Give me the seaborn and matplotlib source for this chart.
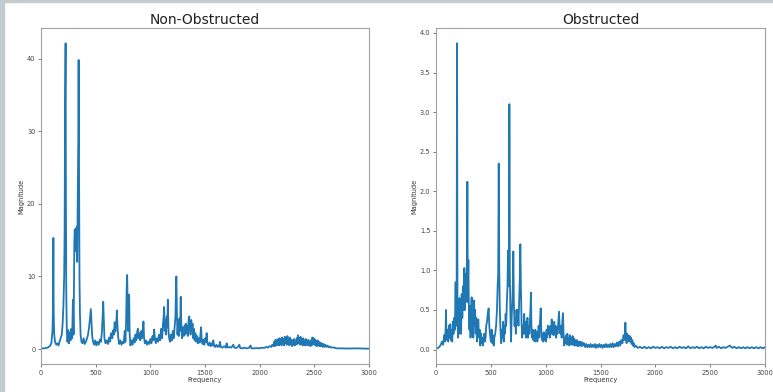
import matplotlib
matplotlib.use("Agg")
import matplotlib.pyplot as plt
import pandas as pd
import seaborn as sns
from matplotlib.patches import Rectangle

# (frequency, magnitude) pairs, non-obstructed pipe
open_low = [(0, 0.1), (30, 0.1), (60, 0.2), (80, 0.4), (95, 0.8), (105, 2.5), (110, 5.8), (113, 15.3),
            (116, 5.0), (120, 2.2), (128, 1.0), (140, 0.6), (150, 0.8), (160, 0.5), (170, 1.0), (180, 1.5),
            (190, 2.0), (198, 3.5), (205, 6.0), (212, 10.0), (216, 16.0), (220, 33.0), (225, 42.1), (228, 20.0),
            (231, 8.0), (236, 2.5), (242, 1.0), (250, 2.6), (256, 0.8), (263, 2.2), (270, 1.2), (278, 2.8),
            (285, 1.5), (292, 6.8), (298, 2.0), (305, 14.8), (309, 16.5), (313, 13.5), (317, 15.8), (321, 14.5),
            (326, 16.8), (331, 12.0), (336, 20.0), (341, 29.0), (344, 39.8), (348, 25.0), (352, 10.0), (356, 5.0),
            (362, 2.0), (370, 1.0), (380, 0.8), (390, 1.5), (400, 0.7), (410, 1.0), (420, 1.4), (430, 2.0),
            (440, 3.0), (448, 4.2), (456, 5.5), (462, 3.5), (468, 1.8), (476, 1.0), (486, 0.6), (496, 1.2),
            (506, 0.5), (516, 1.0), (528, 0.6), (538, 1.3), (548, 1.0), (556, 2.2), (564, 4.5), (569, 6.5),
            (574, 4.0), (580, 1.5), (590, 0.8), (600, 1.2), (612, 0.7), (622, 1.6), (632, 1.0), (642, 2.2),
            (652, 1.5), (660, 2.6), (667, 2.0), (674, 3.7), (680, 2.4), (688, 3.5), (694, 5.3), (700, 3.0),
            (707, 1.5), (716, 0.7), (726, 1.2), (736, 0.6), (746, 1.0), (756, 0.8), (766, 2.5), (772, 1.0),
            (778, 3.5), (784, 8.5), (788, 10.2), (792, 6.0), (796, 2.5), (800, 4.0), (806, 7.5), (811, 2.0),
            (818, 0.5), (828, 1.2), (838, 0.6), (848, 1.5), (856, 0.9), (864, 2.0), (872, 1.2), (880, 2.4),
            (886, 2.8), (892, 1.5), (900, 2.2), (908, 1.2), (916, 2.5), (924, 1.5), (930, 2.2), (937, 3.8),
            (943, 1.5), (950, 0.8), (960, 1.2), (970, 0.6), (980, 1.0), (990, 0.7)]
open_mid = [(1000, 1.4), (1010, 0.8), (1020, 1.8), (1028, 1.2), (1035, 2.7), (1042, 1.5), (1050, 0.8),
            (1060, 1.5), (1070, 1.0), (1080, 2.0), (1090, 1.2), (1100, 2.8), (1108, 1.5), (1116, 3.5),
            (1122, 4.5), (1126, 5.8), (1132, 2.5), (1138, 4.0), (1144, 2.0), (1150, 4.5), (1155, 3.0),
            (1160, 6.8), (1166, 2.5), (1172, 1.5), (1180, 1.0), (1190, 2.0), (1198, 1.2), (1206, 2.5),
            (1214, 1.5), (1222, 3.0), (1230, 4.5), (1234, 8.0), (1238, 10.0), (1243, 5.0), (1248, 2.0),
            (1254, 3.5), (1260, 1.8), (1266, 4.2), (1272, 2.5), (1278, 7.2), (1284, 3.0), (1290, 1.5),
            (1298, 3.0), (1306, 1.8), (1314, 3.3), (1320, 2.0), (1326, 3.5), (1332, 2.2), (1338, 3.2),
            (1344, 1.8), (1350, 4.0), (1356, 4.5), (1362, 3.0), (1368, 2.0), (1374, 4.0), (1380, 2.5),
            (1386, 3.5), (1392, 1.5), (1398, 2.8), (1405, 1.2), (1412, 2.2), (1420, 1.0), (1428, 1.8),
            (1436, 0.8), (1444, 1.5), (1452, 0.9), (1458, 2.0), (1464, 3.0), (1470, 1.2), (1478, 0.7),
            (1486, 1.3), (1494, 0.6), (1502, 1.5), (1510, 1.0), (1515, 2.2), (1522, 0.8), (1532, 0.5),
            (1542, 0.9), (1552, 0.4), (1562, 0.8), (1570, 0.5), (1576, 1.2), (1584, 0.4), (1594, 0.3),
            (1604, 0.6), (1614, 0.3), (1624, 0.5), (1632, 0.3), (1637, 1.0), (1645, 0.3), (1660, 0.2),
            (1675, 0.4), (1690, 0.2), (1698, 0.8), (1706, 0.2), (1720, 0.3), (1740, 0.2), (1759, 0.6),
            (1768, 0.2), (1785, 0.15), (1800, 0.3), (1814, 0.6), (1822, 0.15), (1840, 0.1), (1860, 0.2),
            (1880, 0.1), (1900, 0.15), (1917, 0.5), (1925, 0.1), (1950, 0.1), (1975, 0.15)]
open_high = [(2000, 0.1), (2020, 0.2), (2040, 0.15), (2060, 0.3), (2075, 0.2), (2090, 0.4), (2105, 0.3),
             (2115, 0.6), (2125, 0.4), (2132, 1.0), (2138, 0.4), (2145, 1.3), (2152, 0.5), (2158, 1.2),
             (2164, 0.6), (2170, 1.4), (2176, 0.5), (2182, 1.5), (2188, 0.7), (2194, 1.3), (2200, 0.5),
             (2206, 1.6), (2212, 0.8), (2218, 1.4), (2224, 0.5), (2230, 1.7), (2236, 0.8), (2242, 1.5),
             (2248, 0.6), (2254, 1.8), (2260, 0.9), (2266, 1.4), (2272, 0.5), (2278, 1.6), (2284, 0.7),
             (2290, 1.3), (2296, 0.4), (2302, 1.2), (2308, 0.6), (2314, 1.4), (2320, 0.5), (2326, 1.1),
             (2332, 0.6), (2338, 1.5), (2344, 0.7), (2350, 1.9), (2356, 0.8), (2362, 1.5), (2368, 0.6),
             (2374, 1.7), (2380, 0.7), (2386, 1.3), (2392, 0.5), (2398, 1.5), (2404, 0.6), (2410, 1.2),
             (2416, 0.5), (2422, 1.4), (2428, 0.6), (2434, 1.1), (2440, 0.5), (2446, 1.3), (2452, 0.6),
             (2458, 1.0), (2464, 0.4), (2470, 1.2), (2476, 0.5), (2482, 1.6), (2488, 0.7), (2494, 1.5),
             (2500, 0.6), (2506, 1.3), (2512, 0.5), (2518, 1.1), (2524, 0.4), (2530, 1.2), (2536, 0.5),
             (2542, 1.0), (2548, 0.4), (2554, 0.9), (2560, 0.4), (2568, 0.8), (2576, 0.3), (2584, 0.7),
             (2592, 0.3), (2600, 0.6), (2610, 0.3), (2620, 0.5), (2630, 0.25), (2640, 0.35), (2655, 0.2),
             (2670, 0.25), (2690, 0.15), (2710, 0.1), (2750, 0.1), (2800, 0.08), (2900, 0.1), (3000, 0.05)]

# (frequency, magnitude) pairs, obstructed pipe
blocked_low = [(0, 0.01), (20, 0.02), (40, 0.05), (55, 0.1), (65, 0.06), (75, 0.18), (82, 0.1), (88, 0.28),
               (91, 0.5), (95, 0.2), (100, 0.12), (106, 0.25), (112, 0.1), (118, 0.3), (124, 0.15), (130, 0.32),
               (136, 0.12), (142, 0.25), (148, 0.1), (154, 0.35), (160, 0.2), (166, 0.4), (172, 0.25), (176, 0.6),
               (179, 0.85), (183, 0.3), (188, 0.5), (192, 3.87), (196, 0.4), (201, 0.15), (206, 0.6), (211, 0.3),
               (215, 0.65), (219, 0.2), (224, 0.5), (229, 0.2), (234, 0.7), (240, 0.4), (246, 0.8), (252, 0.5),
               (258, 1.03), (263, 0.5), (268, 0.95), (273, 0.6), (278, 0.75), (283, 1.2), (286, 2.12), (290, 0.6),
               (295, 1.13), (300, 0.5), (305, 0.25), (310, 0.55), (315, 0.15), (320, 0.45), (325, 0.66), (330, 0.2),
               (335, 0.5), (340, 0.15), (347, 0.62), (352, 0.3), (357, 0.5), (362, 0.2), (368, 0.4), (374, 0.1),
               (380, 0.3), (386, 0.38), (392, 0.15), (398, 0.25), (404, 0.05), (410, 0.2), (416, 0.08), (422, 0.15),
               (428, 0.05), (434, 0.12), (440, 0.2), (446, 0.1), (452, 0.15), (458, 0.3), (465, 0.35), (472, 0.45),
               (480, 0.52), (486, 0.3), (492, 0.2), (500, 0.1), (508, 0.25), (514, 0.08), (520, 0.18), (526, 0.05),
               (532, 0.15), (540, 0.2), (548, 0.3), (556, 0.5), (562, 0.8), (567, 0.95), (572, 2.35), (577, 1.0),
               (582, 0.5), (588, 0.25), (594, 0.08), (600, 0.25), (606, 0.15), (612, 0.35), (618, 0.1), (624, 0.3),
               (630, 0.2), (635, 0.45), (640, 0.3), (646, 0.6), (652, 0.8), (657, 1.25), (662, 0.8), (666, 1.0),
               (669, 3.1), (673, 1.0), (678, 0.5), (684, 0.1), (690, 0.4), (696, 0.6), (702, 0.9), (705, 1.24),
               (710, 0.6), (716, 0.3), (722, 0.4), (728, 0.2), (734, 0.5), (740, 0.35), (746, 0.5), (752, 0.3),
               (758, 0.6), (764, 0.9), (769, 1.33), (774, 0.8), (780, 0.35), (786, 0.15), (792, 0.3), (798, 0.2)]
blocked_mid = [(804, 0.45), (810, 0.2), (816, 0.35), (822, 0.15), (828, 0.25), (834, 0.4), (840, 0.15),
               (846, 0.3), (852, 0.2), (858, 0.4), (862, 0.55), (866, 0.72), (870, 0.3), (876, 0.15), (882, 0.25),
               (888, 0.12), (894, 0.2), (900, 0.1), (906, 0.25), (912, 0.12), (918, 0.22), (924, 0.1), (930, 0.18),
               (936, 0.3), (942, 0.15), (948, 0.35), (955, 0.52), (960, 0.25), (966, 0.12), (972, 0.2), (978, 0.1),
               (984, 0.22), (990, 0.12), (996, 0.2), (1002, 0.1), (1008, 0.25), (1014, 0.15), (1020, 0.3),
               (1026, 0.2), (1032, 0.28), (1038, 0.15), (1044, 0.3), (1050, 0.2), (1055, 0.38), (1060, 0.2),
               (1066, 0.32), (1072, 0.18), (1078, 0.35), (1084, 0.2), (1090, 0.3), (1096, 0.15), (1102, 0.28),
               (1108, 0.2), (1116, 0.35), (1122, 0.48), (1128, 0.25), (1134, 0.2), (1140, 0.3), (1146, 0.15),
               (1152, 0.35), (1158, 0.46), (1163, 0.2), (1168, 0.05), (1174, 0.15), (1180, 0.08), (1186, 0.18),
               (1192, 0.06), (1198, 0.2), (1204, 0.08), (1210, 0.15), (1216, 0.05), (1222, 0.18), (1228, 0.07),
               (1234, 0.15), (1240, 0.06), (1246, 0.17), (1252, 0.06), (1258, 0.14), (1264, 0.05), (1270, 0.12),
               (1278, 0.05), (1286, 0.12), (1294, 0.04), (1302, 0.1), (1310, 0.05), (1318, 0.1), (1326, 0.04),
               (1334, 0.09), (1342, 0.05), (1350, 0.08), (1360, 0.03), (1370, 0.07), (1380, 0.03), (1390, 0.06),
               (1400, 0.03), (1410, 0.07), (1420, 0.03), (1430, 0.06), (1440, 0.03), (1450, 0.07), (1460, 0.02),
               (1470, 0.06), (1480, 0.03), (1490, 0.07), (1500, 0.03), (1510, 0.06), (1520, 0.02), (1530, 0.06),
               (1540, 0.03), (1550, 0.07), (1560, 0.03), (1570, 0.06), (1580, 0.03), (1590, 0.07), (1600, 0.03),
               (1610, 0.08), (1620, 0.03), (1630, 0.07), (1640, 0.04), (1650, 0.09), (1660, 0.04), (1670, 0.1),
               (1680, 0.05), (1690, 0.12), (1700, 0.08), (1710, 0.18), (1718, 0.12), (1724, 0.25), (1727, 0.34),
               (1732, 0.15), (1738, 0.08), (1742, 0.2), (1748, 0.12), (1754, 0.18), (1760, 0.1), (1766, 0.17),
               (1772, 0.1), (1778, 0.15), (1784, 0.07), (1790, 0.12), (1796, 0.05), (1802, 0.08), (1810, 0.03),
               (1820, 0.05)]
blocked_high = [(1840, 0.02), (1860, 0.035), (1880, 0.015), (1900, 0.035), (1920, 0.015), (1940, 0.03),
                (1960, 0.015), (1980, 0.035), (2000, 0.02), (2020, 0.03), (2040, 0.015), (2060, 0.035),
                (2080, 0.015), (2100, 0.03), (2120, 0.02), (2140, 0.035), (2160, 0.015), (2180, 0.03),
                (2200, 0.015), (2220, 0.035), (2240, 0.02), (2260, 0.03), (2280, 0.015), (2300, 0.04),
                (2320, 0.015), (2340, 0.03), (2360, 0.02), (2380, 0.035), (2400, 0.015), (2420, 0.03),
                (2440, 0.015), (2460, 0.035), (2480, 0.02), (2500, 0.03), (2520, 0.02), (2540, 0.035),
                (2550, 0.05), (2560, 0.02), (2580, 0.035), (2600, 0.015), (2620, 0.03), (2640, 0.02),
                (2660, 0.035), (2680, 0.05), (2700, 0.02), (2720, 0.035), (2740, 0.015), (2760, 0.03),
                (2780, 0.015), (2800, 0.03), (2820, 0.015), (2840, 0.03), (2860, 0.015), (2880, 0.03),
                (2900, 0.015), (2920, 0.03), (2940, 0.015), (2960, 0.03), (2980, 0.015), (3000, 0.03)]

titles = ["Non-Obstructed", "Obstructed"]
yticks = [[0, 10, 20, 30, 40], [0.0, 0.5, 1.0, 1.5, 2.0, 2.5, 3.0, 3.5, 4.0]]
xticks = [0, 500, 1000, 1500, 2000, 2500, 3000]

plt.rcParams["font.family"] = ["DejaVu Sans"]

fig = plt.figure(figsize=(7.73, 3.92), dpi=100)
# grey screenshot frame on the left and top
fig.patches.append(Rectangle((0, 0), 4 / 773, 1, transform=fig.transFigure, color="#c4ccd1", zorder=0))
fig.patches.append(Rectangle((0, 1 - 2 / 392), 1, 2 / 392, transform=fig.transFigure, color="#c4ccd1", zorder=0))

ax1 = fig.add_axes([41 / 773, 28 / 392, 328 / 773, 336 / 392])
ax2 = fig.add_axes([436 / 773, 28 / 392, 329 / 773, 336 / 392])

frames = [pd.DataFrame(open_low + open_mid + open_high, columns=["Frequency", "Magnitude"]),
          pd.DataFrame(blocked_low + blocked_mid + blocked_high, columns=["Frequency", "Magnitude"])]

for ax, df, title, yt in zip([ax1, ax2], frames, titles, yticks):
    sns.lineplot(data=df, x="Frequency", y="Magnitude", ax=ax, estimator=None, sort=False,
                 color="#1f77b4", linewidth=1.3)
    ax.set_xlim(0, 3000)
    ax.set_xticks(xticks)
    ax.set_yticks(yt)
    if isinstance(yt[1], float):
        ax.set_yticklabels([f"{v:.1f}" for v in yt])
    ax.set_title(title, fontsize=10, pad=3, color="#222222")
    ax.set_xlabel("Frequency", fontsize=4.8, labelpad=1, color="#333333")
    ax.set_ylabel("Magnitude", fontsize=4.8, labelpad=2, color="#333333")
    ax.tick_params(labelsize=4.8, length=2, width=0.5, pad=2, colors="#444444")
    for sp in ax.spines.values():
        sp.set_color("#a0a0a0")
        sp.set_linewidth(0.8)

fig.savefig("out.png", dpi=100)
